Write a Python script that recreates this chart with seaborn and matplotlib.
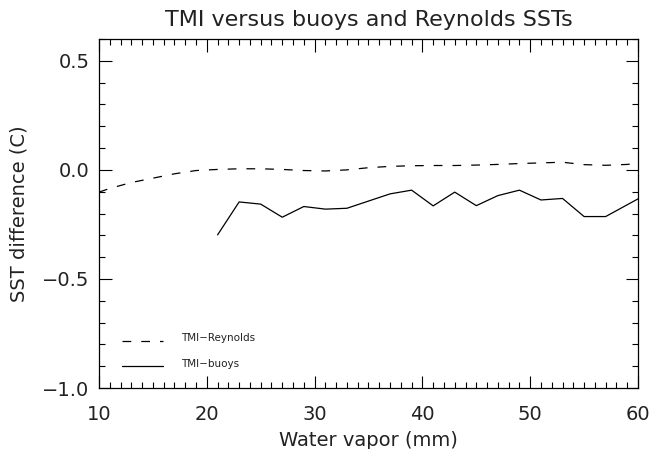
import matplotlib
matplotlib.use("Agg")
import matplotlib.pyplot as plt
from matplotlib.ticker import MultipleLocator
import numpy as np
import pandas as pd
import seaborn as sns

# TMI minus Reynolds SST difference vs. columnar water vapor
reynolds_wv = [10, 11, 13, 15, 17, 19, 21, 23, 25, 27, 29, 31, 33, 35, 37, 39,
               41, 43, 45, 47, 49, 51, 53, 55, 57, 59, 60]
reynolds_diff = [-0.102, -0.085, -0.058, -0.038, -0.018, -0.003, 0.002, 0.005,
                 0.005, 0.002, -0.003, -0.005, 0.000, 0.010, 0.016, 0.019,
                 0.020, 0.020, 0.022, 0.025, 0.029, 0.032, 0.035, 0.024,
                 0.021, 0.025, 0.031]

# TMI minus buoy SST difference vs. columnar water vapor
buoy_wv = [21, 23, 25, 27, 29, 31, 33, 35, 37, 39, 41, 43, 45, 47, 49, 51,
           53, 55, 57, 60]
buoy_diff = [-0.298, -0.147, -0.157, -0.217, -0.168, -0.180, -0.176, -0.143,
             -0.110, -0.093, -0.165, -0.102, -0.164, -0.118, -0.093, -0.138,
             -0.131, -0.214, -0.214, -0.133]

series_names = ["TMI\u2212Reynolds", "TMI\u2212buoys"]
x_ticks = [10, 20, 30, 40, 50, 60]
y_ticks = [-1.0, -0.5, 0.0, 0.5]

df = pd.concat([
    pd.DataFrame({"wv": reynolds_wv, "diff": reynolds_diff, "series": series_names[0]}),
    pd.DataFrame({"wv": buoy_wv, "diff": buoy_diff, "series": series_names[1]}),
], ignore_index=True)

sns.set_style("white")
plt.rcParams["font.family"] = ["DejaVu Sans"]

fig = plt.figure(figsize=(6.52, 4.49), dpi=100)
ax = fig.add_axes([99 / 652, 1 - 388 / 449, (638 - 99) / 652, (388 - 39) / 449])

sns.lineplot(data=df, x="wv", y="diff", hue="series", style="series",
             palette={series_names[0]: "black", series_names[1]: "black"},
             dashes={series_names[0]: (7, 8), series_names[1]: ""},
             linewidth=0.9, ax=ax, legend=False, sort=False, estimator=None)

ax.set_xlim(10, 60)
ax.set_ylim(-1.0, 0.6)
ax.set_xticks(x_ticks)
ax.set_yticks(y_ticks)
ax.set_xticklabels([f"{v}" for v in x_ticks])
ax.set_yticklabels([f"{v:.1f}".replace("-", "\u2212") for v in y_ticks])
ax.xaxis.set_minor_locator(MultipleLocator(1))
ax.yaxis.set_minor_locator(MultipleLocator(0.1))
ax.tick_params(which="both", direction="in", top=True, right=True,
               bottom=True, left=True, color="black", width=0.8)
ax.tick_params(which="major", length=9, labelsize=14, labelcolor="#222222")
ax.tick_params(axis="x", which="major", pad=12)
ax.tick_params(axis="y", which="major", pad=7)
ax.tick_params(which="minor", length=4)
for s in ax.spines.values():
    s.set_color("black")
    s.set_linewidth(0.9)

ax.set_xlabel("Water vapor (mm)", fontsize=14, color="#222222", labelpad=5)
ax.set_ylabel("SST difference (C)", fontsize=14, color="#222222", labelpad=10)
ax.set_title("TMI versus buoys and Reynolds SSTs", fontsize=16, color="#222222", pad=9)

# Hand-placed key in the lower-left corner
for name, yk, ls in [(series_names[0], 0.135, (0, (7, 8))), (series_names[1], 0.062, "-")]:
    ax.plot([0.042, 0.118], [yk, yk], transform=ax.transAxes, color="black",
            linewidth=0.9, linestyle=ls)
    ax.text(0.152, yk + 0.008, name, transform=ax.transAxes, fontsize=7.5,
            va="center", ha="left", color="#222222")

fig.savefig("out.png", dpi=100, facecolor="white")
